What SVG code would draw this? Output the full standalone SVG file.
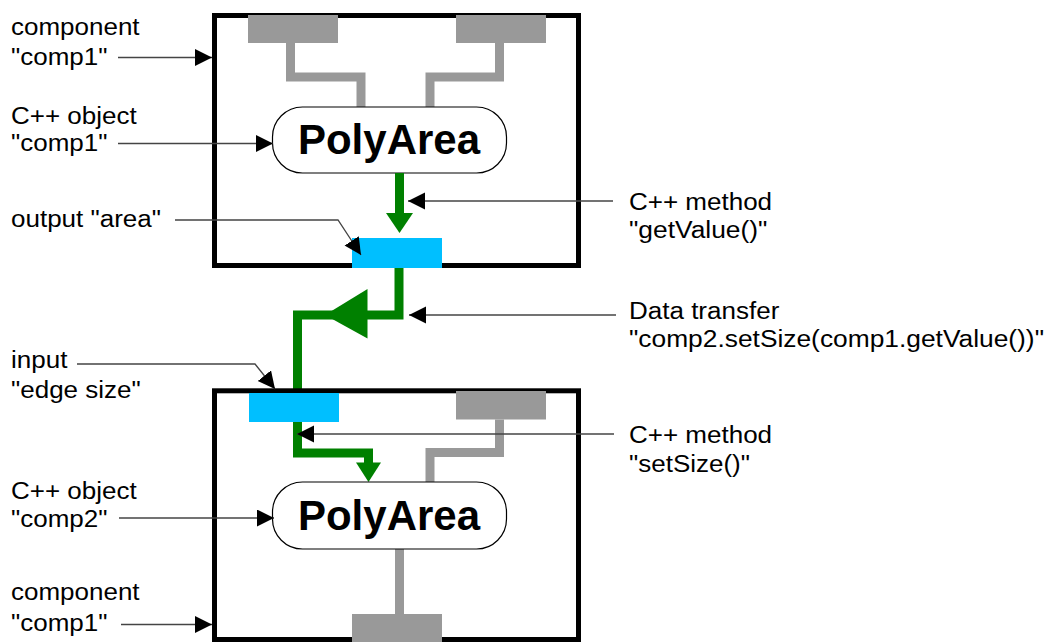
<svg xmlns="http://www.w3.org/2000/svg" width="1047" height="642" viewBox="0 0 1047 642">
  <defs>
    <style>
      .lbl { font-family: "Liberation Sans", Arial, Helvetica, sans-serif; font-size: 23px; fill: #000; }
      .title { font-family: "Liberation Sans", Arial, Helvetica, sans-serif; font-size: 42px; font-weight: bold; text-anchor: middle; fill: #000; }
      .frame { fill: none; stroke: #000; stroke-width: 5; stroke-linejoin: miter; }
      .obj { fill: #fff; stroke: #000; stroke-width: 1.2; }
      .port { fill: #999; }
      .pipe { fill: none; stroke: #999; stroke-width: 9; stroke-linejoin: miter; }
      .io { fill: #00bfff; }
      .flow { fill: none; stroke: #008000; stroke-width: 9; stroke-linejoin: miter; }
      .head { fill: #008000; }
      .lead { fill: none; stroke: #444; stroke-width: 1.3; marker-end: url(#tip); }
    </style>
    <marker id="tip" markerUnits="userSpaceOnUse" markerWidth="18" markerHeight="18" refX="17" refY="8.5" orient="auto">
      <path d="M0,0 L17,8.5 L0,17 Z" fill="#000"/>
    </marker>
  </defs>

  <rect width="1047" height="642" fill="#fff"/>

  <!-- upper component -->
  <g id="comp1">
    <rect class="frame" x="214.5" y="15.5" width="364" height="250"/>
    <path class="pipe" d="M290.5,43 V77 H361 V107"/>
    <path class="pipe" d="M499.5,43 V77 H430 V107"/>
    <rect class="port" x="248" y="15" width="90" height="28"/>
    <rect class="port" x="456" y="15" width="90" height="28"/>
    <rect class="obj" x="272.5" y="107" width="234" height="66" rx="30" ry="30"/>
    <text class="title" x="389" y="154">PolyArea</text>
    <path class="flow" d="M399.5,173 V214"/>
    <polygon class="head" points="386,213 413,213 399.5,233"/>
    <rect id="out-area" class="io" x="352" y="238" width="90" height="30"/>
  </g>

  <!-- data transfer between the components -->
  <g id="connectors">
    <path class="flow" d="M399,268 V315 H297.5 V393"/>
    <polygon class="head" points="325,315 367.5,289 367.5,338.5"/>
  </g>

  <!-- lower component -->
  <g id="comp2">
    <rect class="frame" x="214.5" y="390.8" width="364" height="248.7"/>
    <path class="pipe" d="M499.5,419.5 V452.5 H430 V483"/>
    <path class="pipe" d="M399.5,549 V614"/>
    <rect class="port" x="456" y="391" width="90" height="28.5"/>
    <rect id="in-edge" class="io" x="249" y="393" width="90" height="29"/>
    <path class="flow" d="M297.5,422 V453 H368.5 V463"/>
    <polygon class="head" points="356,462.5 381,462.5 368.5,482"/>
    <rect class="obj" x="272.5" y="482" width="234" height="67" rx="30" ry="30"/>
    <text class="title" x="389" y="529.5">PolyArea</text>
    <rect class="port" x="352" y="614" width="90" height="30"/>
  </g>

  <!-- annotation leaders -->
  <g id="leaders">
    <path class="lead" d="M118,57.5 H212"/>
    <path class="lead" d="M118,143.5 H273"/>
    <path class="lead" d="M175,220 H338 L361,255"/>
    <path class="lead" d="M613,201 H408"/>
    <path class="lead" d="M616,315 H409"/>
    <path class="lead" d="M77,364 H255 L275,389"/>
    <path class="lead" d="M614,434 H297"/>
    <path class="lead" d="M119,518 H274"/>
    <path class="lead" d="M121,624.5 H212"/>
  </g>

  <!-- annotation texts -->
  <g id="labels">
    <text class="lbl" x="11" y="35" textLength="128.6" lengthAdjust="spacingAndGlyphs">component</text>
    <text class="lbl" x="11" y="64.5" textLength="96.5" lengthAdjust="spacingAndGlyphs">"comp1"</text>
    <text class="lbl" x="11" y="124" textLength="125.7" lengthAdjust="spacingAndGlyphs">C++ object</text>
    <text class="lbl" x="11" y="151" textLength="96.5" lengthAdjust="spacingAndGlyphs">"comp1"</text>
    <text class="lbl" x="11" y="226.5" textLength="150" lengthAdjust="spacingAndGlyphs">output "area"</text>
    <text class="lbl" x="11" y="368" textLength="56.4" lengthAdjust="spacingAndGlyphs">input</text>
    <text class="lbl" x="11" y="397.5" textLength="129.7" lengthAdjust="spacingAndGlyphs">"edge size"</text>
    <text class="lbl" x="11" y="499" textLength="125.7" lengthAdjust="spacingAndGlyphs">C++ object</text>
    <text class="lbl" x="11" y="527" textLength="96.5" lengthAdjust="spacingAndGlyphs">"comp2"</text>
    <text class="lbl" x="11" y="600" textLength="128.6" lengthAdjust="spacingAndGlyphs">component</text>
    <text class="lbl" x="11" y="631" textLength="96.5" lengthAdjust="spacingAndGlyphs">"comp1"</text>

    <text class="lbl" x="629" y="209.5" textLength="143.1" lengthAdjust="spacingAndGlyphs">C++ method</text>
    <text class="lbl" x="629" y="238" textLength="138.4" lengthAdjust="spacingAndGlyphs">"getValue()"</text>
    <text class="lbl" x="629" y="318.5" textLength="150.3" lengthAdjust="spacingAndGlyphs">Data transfer</text>
    <text class="lbl" x="629" y="347" textLength="415" lengthAdjust="spacingAndGlyphs">"comp2.setSize(comp1.getValue())"</text>
    <text class="lbl" x="629" y="442.5" textLength="143.1" lengthAdjust="spacingAndGlyphs">C++ method</text>
    <text class="lbl" x="629" y="472" textLength="121" lengthAdjust="spacingAndGlyphs">"setSize()"</text>
  </g>
</svg>
